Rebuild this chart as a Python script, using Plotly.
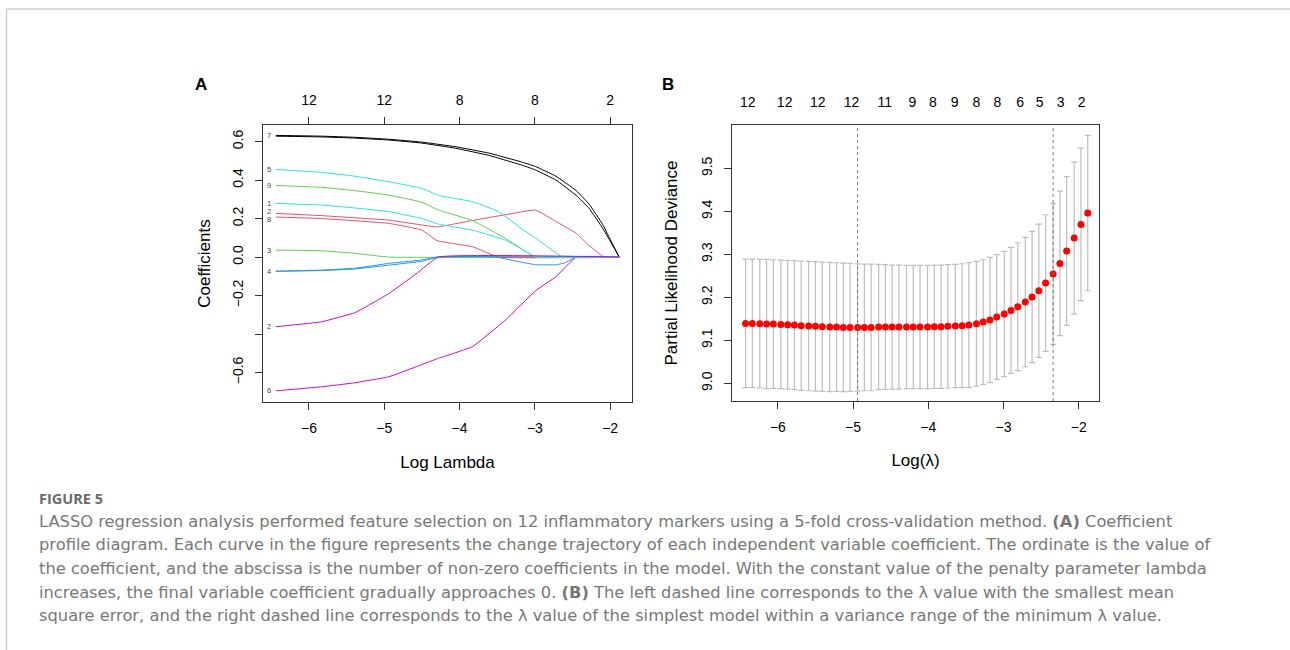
import plotly.graph_objects as go

# ---------------- Panel A: LASSO coefficient paths ----------------
v1_x = [-6.44, -5.83, -5.39, -4.94, -4.50, -4.05, -3.61, -3.16, -2.99, -2.72, -2.45, -2.28, -2.10, -2.01, -1.88]
v1_y = [0.628, 0.624, 0.618, 0.608, 0.592, 0.565, 0.528, 0.476, 0.452, 0.400, 0.320, 0.253, 0.150, 0.090, 0.0]
v7_x = [-6.44, -5.83, -5.39, -4.94, -4.50, -4.05, -3.61, -3.16, -2.99, -2.72, -2.45, -2.28, -2.10, -2.01, -1.88]
v7_y = [0.632, 0.628, 0.622, 0.612, 0.597, 0.573, 0.540, 0.492, 0.470, 0.420, 0.345, 0.275, 0.170, 0.100, 0.0]
v2_x = [-6.44, -5.83, -4.94, -4.30, -3.83, -3.39, -2.99, -2.72, -2.45, -2.28, -2.08, -1.88]
v2_y = [0.227, 0.215, 0.192, 0.157, 0.190, 0.220, 0.244, 0.185, 0.123, 0.060, 0.0, 0.0]
v8_x = [-6.44, -5.83, -4.94, -4.50, -4.30, -3.83, -3.48, -1.88]
v8_y = [0.208, 0.200, 0.175, 0.140, 0.085, 0.054, 0.0, 0.0]
v3_x = [-6.44, -5.83, -5.39, -4.94, -1.88]
v3_y = [0.036, 0.033, 0.019, 0.0, 0.0]
v9_x = [-6.44, -5.83, -5.39, -4.94, -4.50, -4.28, -3.83, -3.39, -3.05, -2.99, -1.88]
v9_y = [0.372, 0.362, 0.345, 0.322, 0.285, 0.244, 0.190, 0.097, 0.010, 0.0, 0.0]
v4_x = [-6.44, -5.83, -5.39, -4.94, -4.50, -4.30, -1.88]
v4_y = [-0.073, -0.068, -0.058, -0.033, -0.015, 0.0, 0.0]
v10_x = [-6.44, -5.83, -5.39, -4.94, -4.50, -4.28, -3.52, -3.20, -2.99, -2.72, -2.60, -2.45, -1.88]
v10_y = [-0.074, -0.070, -0.062, -0.042, -0.022, 0.0, 0.0, -0.025, -0.040, -0.040, -0.030, 0.0, 0.0]
v5_x = [-6.44, -5.83, -5.39, -4.94, -4.50, -4.28, -3.83, -3.48, -3.16, -2.99, -2.63, -1.88]
v5_y = [0.455, 0.440, 0.420, 0.391, 0.357, 0.320, 0.288, 0.236, 0.142, 0.099, 0.0, 0.0]
v11_x = [-6.44, -5.83, -5.39, -4.94, -4.50, -4.28, -3.83, -3.39, -3.08, -2.99, -1.88]
v11_y = [0.279, 0.270, 0.255, 0.236, 0.200, 0.171, 0.140, 0.088, 0.020, 0.0, 0.0]
v6_x = [-6.44, -5.83, -5.39, -4.94, -4.28, -3.83, -3.39, -2.99, -2.72, -2.45, -1.88]
v6_y = [-0.695, -0.674, -0.653, -0.622, -0.526, -0.466, -0.327, -0.175, -0.102, 0.0, 0.0]
v12_x = [-6.44, -5.83, -5.39, -4.94, -4.58, -4.28, -1.88]
v12_y = [-0.362, -0.336, -0.289, -0.190, -0.088, 0.0, 0.0]

var_labels = ["", "2", "3", "4", "5", "6", "7", "8", "9", "", "1", "2"]
label_nudge = [0, 2, 0, 0, 0, 0, 0, -2, 0, 0, 0, 0]
palette = ["#000000", "#DF536B", "#61D04F", "#2297E6", "#28E2E5", "#CD0BBC"]

a_xticks = [-6, -5, -4, -3, -2]
a_xticktext = ["\u22126", "\u22125", "\u22124", "\u22123", "\u22122"]
a_top_text = ["12", "12", "8", "8", "2"]
a_yticks = [0.6, 0.4, 0.2, 0.0, -0.2, -0.4, -0.6]
a_yticktext = ["0.6", "0.4", "0.2", "0.0", "\u22120.2", "", "\u22120.6"]

# ---------------- Panel B: cross-validation curve ----------------
loglam = [-6.43, -6.34, -6.24, -6.15, -6.06, -5.96, -5.87, -5.78, -5.69, -5.59,
          -5.50, -5.41, -5.31, -5.22, -5.13, -5.04, -4.94, -4.85, -4.76, -4.66,
          -4.57, -4.48, -4.39, -4.29, -4.20, -4.11, -4.01, -3.92, -3.83, -3.74,
          -3.64, -3.55, -3.46, -3.36, -3.27, -3.18, -3.09, -2.99, -2.90, -2.81,
          -2.71, -2.62, -2.53, -2.44, -2.34, -2.25, -2.16, -2.06, -1.97, -1.88]
cvm = [9.1395, 9.1395, 9.1388, 9.1380, 9.1380, 9.1372, 9.1364, 9.1357, 9.1341, 9.1333,
       9.1326, 9.1318, 9.1310, 9.1310, 9.1302, 9.1302, 9.1300, 9.1302, 9.1302, 9.1310,
       9.1310, 9.1310, 9.1310, 9.1310, 9.1310, 9.1310, 9.1310, 9.1318, 9.1318, 9.1326,
       9.1333, 9.1341, 9.1357, 9.1388, 9.1426, 9.1473, 9.1543, 9.1612, 9.1698, 9.1783,
       9.1891, 9.2008, 9.2155, 9.2333, 9.2543, 9.2791, 9.3078, 9.3380, 9.3698, 9.3961]
cvsd = [0.1496, 0.1496, 0.1496, 0.1504, 0.1496, 0.1496, 0.1496, 0.1496, 0.1504, 0.1504,
        0.1504, 0.1504, 0.1504, 0.1496, 0.1496, 0.1488, 0.1481, 0.1473, 0.1473, 0.1457,
        0.1450, 0.1442, 0.1442, 0.1434, 0.1434, 0.1434, 0.1434, 0.1434, 0.1434, 0.1434,
        0.1434, 0.1442, 0.1450, 0.1450, 0.1450, 0.1457, 0.1450, 0.1457, 0.1465, 0.1488,
        0.1504, 0.1527, 0.1550, 0.1589, 0.1636, 0.1682, 0.1729, 0.1767, 0.1775, 0.1806]
b_top_pos = [-6.40, -5.91, -5.47, -5.02, -4.58, -4.21, -3.94, -3.65, -3.36, -3.08, -2.78, -2.52, -2.24, -1.96]
b_top_text = ["12", "12", "12", "12", "11", "9", "8", "9", "8", "8", "6", "5", "3", "2"]
b_xticks = [-6, -5, -4, -3, -2]
b_xticktext = ["\u22126", "\u22125", "\u22124", "\u22123", "\u22122"]
b_yticks = [9.0, 9.1, 9.2, 9.3, 9.4, 9.5]
b_yticktext = ["9.0", "9.1", "9.2", "9.3", "9.4", "9.5"]

caption_title = "FIGURE 5"
caption_lines = [
    "LASSO regression analysis performed feature selection on 12 inflammatory markers using a 5-fold cross-validation method. <b>(A)</b> Coefficient",
    "profile diagram. Each curve in the figure represents the change trajectory of each independent variable coefficient. The ordinate is the value of",
    "the coefficient, and the abscissa is the number of non-zero coefficients in the model. With the constant value of the penalty parameter lambda",
    "increases, the final variable coefficient gradually approaches 0. <b>(B)</b> The left dashed line corresponds to the \u03bb value with the smallest mean",
    "square error, and the right dashed line corresponds to the \u03bb value of the simplest model within a variance range of the minimum \u03bb value.",
]

W, H = 1290, 650
FONT = "Liberation Sans, Arial, sans-serif"


def fx(p):
    return p / W


def fy(p):
    return 1 - p / H


fig = go.Figure()

paths = [(v1_x, v1_y), (v2_x, v2_y), (v3_x, v3_y), (v4_x, v4_y), (v5_x, v5_y), (v6_x, v6_y),
         (v7_x, v7_y), (v8_x, v8_y), (v9_x, v9_y), (v10_x, v10_y), (v11_x, v11_y), (v12_x, v12_y)]
annotations = []
for i, (xs, ys) in enumerate(paths):
    col = palette[i % 6]
    fig.add_trace(go.Scatter(x=xs, y=ys, mode="lines", xaxis="x", yaxis="y",
                             line=dict(color=col, width=1.0, shape="spline", smoothing=0.3),
                             showlegend=False, hoverinfo="skip"))
    if var_labels[i]:
        annotations.append(dict(x=xs[0], y=ys[0], xref="x", yref="y", text=var_labels[i],
                                showarrow=False, xanchor="right", yanchor="middle", xshift=-3,
                                yshift=label_nudge[i],
                                font=dict(family=FONT, size=7.5, color="#444")))

# invisible helper for the top axis of panel A
fig.add_trace(go.Scatter(x=[a_xticks[0]], y=[0], xaxis="x3", yaxis="y", mode="markers",
                         marker=dict(opacity=0), showlegend=False, hoverinfo="skip"))

# Panel B
fig.add_trace(go.Scatter(x=loglam, y=cvm, mode="markers", xaxis="x2", yaxis="y2",
                         marker=dict(color="#FF0000", size=7),
                         error_y=dict(type="data", array=cvsd, visible=True, color="#BDBDBD",
                                      thickness=1.2, width=3),
                         showlegend=False, hoverinfo="skip"))
fig.add_trace(go.Scatter(x=[b_top_pos[0]], y=[9.2], xaxis="x4", yaxis="y2", mode="markers",
                         marker=dict(opacity=0), showlegend=False, hoverinfo="skip"))

# lambda.min and lambda.1se
imin = min(range(len(cvm)), key=lambda k: cvm[k])
thr = cvm[imin] + cvsd[imin]
i1se = max(k for k in range(len(cvm)) if cvm[k] <= thr)
shapes = []
for k in (imin, i1se):
    shapes.append(dict(type="line", xref="x2", yref="y2 domain", x0=loglam[k], x1=loglam[k],
                       y0=0, y1=1, line=dict(color="#7a7a7a", width=1, dash="dot")))

# outer frame lines
shapes.append(dict(type="line", xref="paper", yref="paper", x0=fx(6.5), x1=1, y0=fy(9), y1=fy(9),
                   line=dict(color="#cfcfcf", width=1.5)))
shapes.append(dict(type="line", xref="paper", yref="paper", x0=fx(6.5), x1=fx(6.5), y0=0, y1=fy(9),
                   line=dict(color="#cfcfcf", width=1.5)))

tickfont = dict(family=FONT, size=14, color="#000")
titlefont = dict(family=FONT, size=17, color="#000")
axcol = "#333"

common_x = dict(showgrid=False, zeroline=False, ticks="outside", ticklen=7, tickcolor=axcol,
                tickwidth=1, tickfont=tickfont, showline=True, linecolor=axcol, linewidth=1,
                mirror=True, ticklabelstandoff=6)
common_y = dict(showgrid=False, zeroline=False, ticks="outside", ticklen=7, tickcolor=axcol,
                tickwidth=1, tickfont=tickfont, showline=True, linecolor=axcol, linewidth=1,
                mirror=True, tickangle=-90, ticklabelstandoff=6)

fig.update_layout(
    width=W, height=H, margin=dict(l=0, r=0, t=0, b=0), autosize=False,
    paper_bgcolor="white", plot_bgcolor="white",
    xaxis=dict(common_x, domain=[fx(263), fx(632)], range=[-6.61, -1.71], anchor="y",
               tickvals=a_xticks, ticktext=a_xticktext,
               title=dict(text="Log Lambda", font=titlefont, standoff=21)),
    yaxis=dict(common_y, domain=[fy(402), fy(125)], range=[-0.753, 0.686], anchor="x",
               tickvals=a_yticks, ticktext=a_yticktext,
               title=dict(text="Coefficients", font=titlefont, standoff=15)),
    xaxis3=dict(overlaying="x", side="top", anchor="y", range=[-6.61, -1.71],
                tickvals=a_xticks, ticktext=a_top_text, ticks="outside", ticklen=7,
                tickcolor=axcol, tickfont=tickfont, showgrid=False, zeroline=False,
                showline=False, ticklabelstandoff=6),
    xaxis2=dict(common_x, domain=[fx(732), fx(1099)], range=[-6.61, -1.73], anchor="y2",
                tickvals=b_xticks, ticktext=b_xticktext,
                title=dict(text="Log(\u03bb)", font=titlefont, standoff=20)),
    yaxis2=dict(common_y, domain=[fy(401), fy(125)], range=[8.959, 9.601], anchor="x2",
                tickvals=b_yticks, ticktext=b_yticktext,
                title=dict(text="Partial Likelihood Deviance", font=titlefont, standoff=17)),
    xaxis4=dict(overlaying="x2", side="top", anchor="y2", range=[-6.61, -1.73],
                tickvals=b_top_pos, ticktext=b_top_text, ticks="", tickfont=tickfont,
                showgrid=False, zeroline=False, showline=False, ticklabelstandoff=14),
    shapes=shapes,
)

# panel letters
annotations.append(dict(x=fx(201), y=fy(85), xref="paper", yref="paper", text="<b>A</b>",
                        showarrow=False, xanchor="center", yanchor="middle",
                        font=dict(family=FONT, size=17, color="#000")))
annotations.append(dict(x=fx(668), y=fy(85), xref="paper", yref="paper", text="<b>B</b>",
                        showarrow=False, xanchor="center", yanchor="middle",
                        font=dict(family=FONT, size=17, color="#000")))

# caption
CAPFONT = "DejaVu Sans, Open Sans, sans-serif"
annotations.append(dict(x=fx(37), y=fy(498), xref="paper", yref="paper", text="<b>" + caption_title + "</b>",
                        showarrow=False, xanchor="left", yanchor="middle",
                        font=dict(family="Open Sans, sans-serif", size=14.5, color="#6a6a6a")))
for j, line in enumerate(caption_lines):
    annotations.append(dict(x=fx(37), y=fy(521 + j * 23.7), xref="paper", yref="paper", text=line,
                            showarrow=False, xanchor="left", yanchor="middle",
                            font=dict(family=CAPFONT, size=16.3, color="#787878")))

fig.update_layout(annotations=annotations)
fig.write_html("out.html")
